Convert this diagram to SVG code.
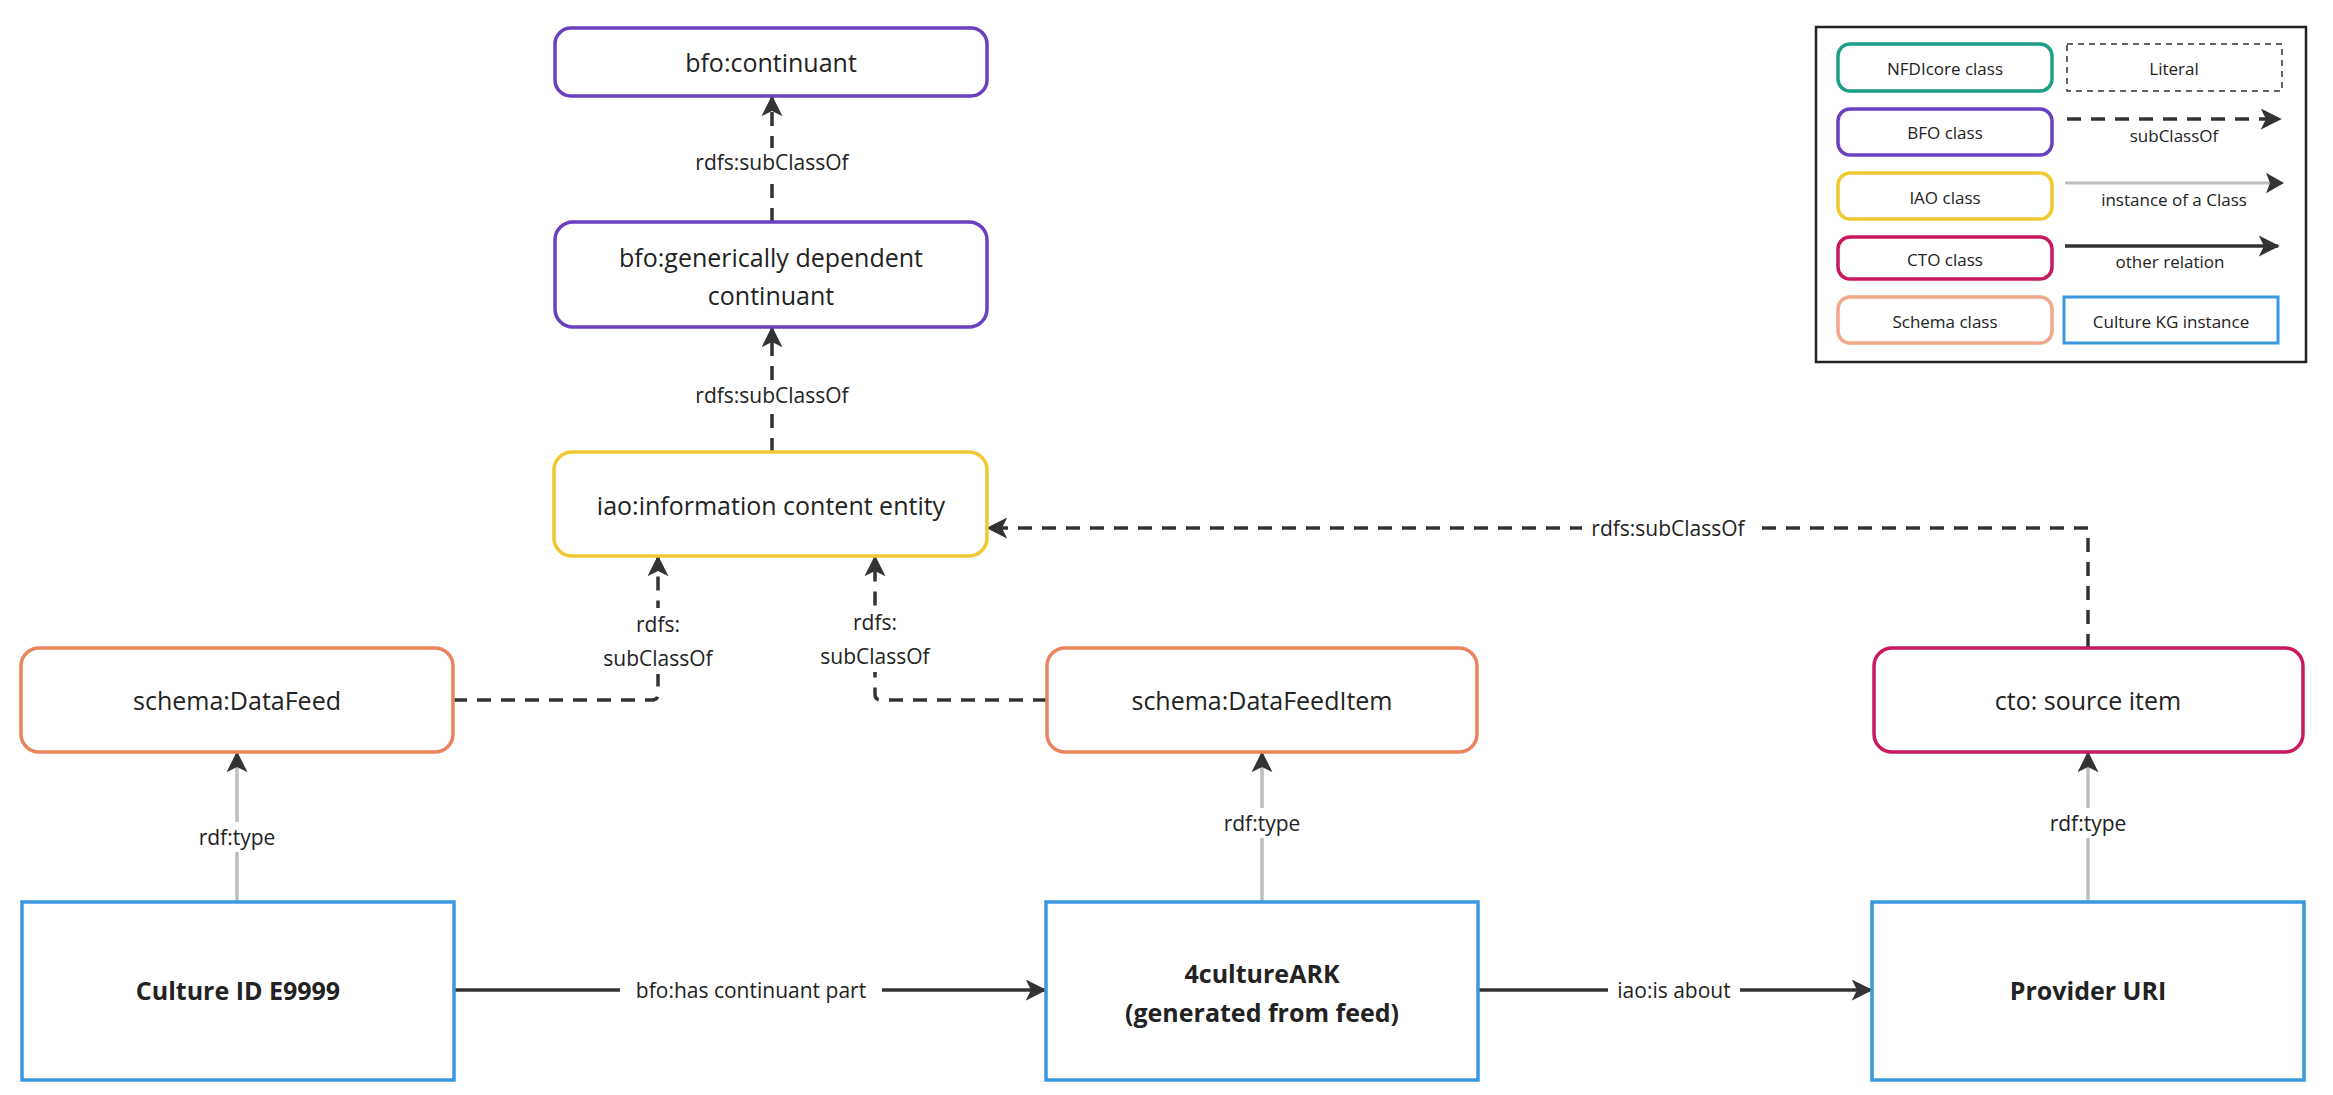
<svg xmlns="http://www.w3.org/2000/svg" width="2333" height="1095" viewBox="0 0 2333 1095">
<defs>
<style>
text{font-family:"Open Sans","Noto Sans","Liberation Sans",sans-serif;fill:#222;text-anchor:middle;dominant-baseline:central}
.n{font-size:25px}
.b{font-size:25px;font-weight:bold}
.l{font-size:21px}
.g{font-size:17px}
.box{fill:#fff;stroke-width:3.5}
.bfo{stroke:#6a3fc0}
.iao{stroke:#f1c832}
.sch{stroke:#e8855d}
.cto{stroke:#c8185e}
.inst{fill:#fff;stroke:#3a98df;stroke-width:3.5}
.sub{fill:none;stroke:#333;stroke-width:3.5;stroke-dasharray:14 10}
.typ{fill:none;stroke:#bdbdbd;stroke-width:3.5}
.rel{fill:none;stroke:#333;stroke-width:3.5}
.bg{fill:#fff}
</style>
<marker id="ad" viewBox="0 0 12 12" refX="11" refY="6" markerWidth="6" markerHeight="6" orient="auto" markerUnits="strokeWidth">
<path d="M0,0 L12,6 L0,12 L3,6 Z" fill="#333"/>
</marker>
</defs>
<rect width="2333" height="1095" fill="#fff"/>

<g id="connectors">
<line class="sub" x1="772" y1="222" x2="772" y2="97" marker-end="url(#ad)"/>
<rect class="bg" x="690" y="148" width="164" height="28"/>
<text class="l" x="772" y="162">rdfs:subClassOf</text>

<line class="sub" x1="772" y1="452" x2="772" y2="328" marker-end="url(#ad)"/>
<rect class="bg" x="690" y="381" width="164" height="28"/>
<text class="l" x="772" y="395">rdfs:subClassOf</text>

<path class="sub" d="M453,700 H652 Q658,700 658,694 V557" marker-end="url(#ad)"/>
<rect class="bg" x="608" y="608" width="100" height="66"/>
<text class="l" x="658" y="624">rdfs:</text>
<text class="l" x="658" y="658">subClassOf</text>

<path class="sub" d="M1047,700 H881 Q875,700 875,694 V557" marker-end="url(#ad)"/>
<rect class="bg" x="825" y="606" width="100" height="66"/>
<text class="l" x="875" y="622">rdfs:</text>
<text class="l" x="875" y="656">subClassOf</text>

<path class="sub" d="M2088,648 V528 H988" marker-end="url(#ad)"/>
<rect class="bg" x="1582" y="514" width="172" height="28"/>
<text class="l" x="1668" y="528">rdfs:subClassOf</text>

<line class="typ" x1="237" y1="902" x2="237" y2="753" marker-end="url(#ad)"/>
<rect class="bg" x="195" y="822" width="84" height="30"/>
<text class="l" x="237" y="837">rdf:type</text>

<line class="typ" x1="1262" y1="902" x2="1262" y2="753" marker-end="url(#ad)"/>
<rect class="bg" x="1220" y="808" width="84" height="30"/>
<text class="l" x="1262" y="823">rdf:type</text>

<line class="typ" x1="2088" y1="902" x2="2088" y2="753" marker-end="url(#ad)"/>
<rect class="bg" x="2046" y="808" width="84" height="30"/>
<text class="l" x="2088" y="823">rdf:type</text>

<line class="rel" x1="455" y1="990" x2="1045" y2="990" marker-end="url(#ad)"/>
<rect class="bg" x="620" y="975" width="262" height="30"/>
<text class="l" x="751" y="990">bfo:has continuant part</text>

<line class="rel" x1="1479" y1="990" x2="1871" y2="990" marker-end="url(#ad)"/>
<rect class="bg" x="1608" y="975" width="132" height="30"/>
<text class="l" x="1674" y="990">iao:is about</text>
</g>

<g id="bfo-continuant">
<rect class="box bfo" x="555" y="28" width="432" height="68" rx="16"/>
<text class="n" x="771" y="62">bfo:continuant</text>
</g>
<g id="bfo-gdc">
<rect class="box bfo" x="555" y="222" width="432" height="105" rx="18"/>
<text class="n" x="771" y="257">bfo:generically dependent</text>
<text class="n" x="771" y="295">continuant</text>
</g>
<g id="iao-ice">
<rect class="box iao" x="554" y="452" width="433" height="104" rx="18"/>
<text class="n" x="771" y="505">iao:information content entity</text>
</g>
<g id="schema-datafeed">
<rect class="box sch" x="21" y="648" width="432" height="104" rx="18"/>
<text class="n" x="237" y="700">schema:DataFeed</text>
</g>
<g id="schema-datafeeditem">
<rect class="box sch" x="1047" y="648" width="430" height="104" rx="18"/>
<text class="n" x="1262" y="700">schema:DataFeedItem</text>
</g>
<g id="cto-source-item">
<rect class="box cto" x="1874" y="648" width="429" height="104" rx="18"/>
<text class="n" x="2088" y="700">cto: source item</text>
</g>
<g id="culture-id">
<rect class="inst" x="22" y="902" width="432" height="178"/>
<text class="b" x="238" y="990">Culture ID E9999</text>
</g>
<g id="culture-ark">
<rect class="inst" x="1046" y="902" width="432" height="178"/>
<text class="b" x="1262" y="973">4cultureARK</text>
<text class="b" x="1262" y="1012">(generated from feed)</text>
</g>
<g id="provider-uri">
<rect class="inst" x="1872" y="902" width="432" height="178"/>
<text class="b" x="2088" y="990">Provider URI</text>
</g>

<g id="legend">
<rect x="1816" y="27" width="490" height="335" fill="#fff" stroke="#222" stroke-width="2.5"/>
<rect x="1838" y="44" width="214" height="47" rx="12" fill="#fff" stroke="#1e9e89" stroke-width="3.5"/>
<text class="g" x="1945" y="68">NFDIcore class</text>
<rect x="2067" y="44" width="215" height="47" fill="#fff" stroke="#333" stroke-width="1.5" stroke-dasharray="6 5"/>
<text class="g" x="2174" y="68">Literal</text>
<rect x="1838" y="109" width="214" height="46" rx="12" fill="#fff" stroke="#6a3fc0" stroke-width="3.5"/>
<text class="g" x="1945" y="132">BFO class</text>
<line x1="2067" y1="119" x2="2280" y2="119" class="sub" stroke-width="3" marker-end="url(#ad)"/>
<text class="g" x="2174" y="135">subClassOf</text>
<rect x="1838" y="173" width="214" height="46" rx="12" fill="#fff" stroke="#f1c832" stroke-width="3.5"/>
<text class="g" x="1945" y="197">IAO class</text>
<line x1="2065" y1="183" x2="2280" y2="183" stroke="#bdbdbd" stroke-width="3"/>
<path d="M2268,175 L2282,183 L2268,191 L2271,183 Z" fill="#333" stroke="#333" stroke-width="2"/>
<text class="g" x="2174" y="199">instance of a Class</text>
<rect x="1838" y="237" width="214" height="42" rx="12" fill="#fff" stroke="#c8185e" stroke-width="3.5"/>
<text class="g" x="1945" y="259">CTO class</text>
<line x1="2065" y1="246" x2="2278" y2="246" class="rel" stroke-width="3" marker-end="url(#ad)"/>
<text class="g" x="2170" y="261">other relation</text>
<rect x="1838" y="297" width="214" height="46" rx="12" fill="#fff" stroke="#f0a98a" stroke-width="3.5"/>
<text class="g" x="1945" y="321">Schema class</text>
<rect x="2064" y="297" width="214" height="46" fill="#fff" stroke="#3a98df" stroke-width="3"/>
<text class="g" x="2171" y="321">Culture KG instance</text>
</g>
</svg>
